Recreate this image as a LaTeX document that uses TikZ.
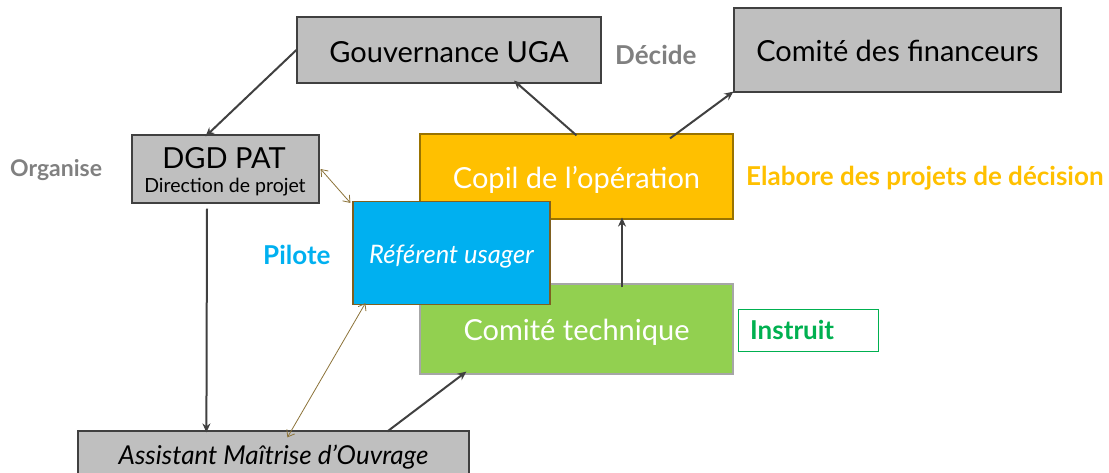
\documentclass[tikz,border=0pt]{standalone}
\usepackage{fontspec}
\setmainfont{Lato}
\usetikzlibrary{arrows.meta,calc}
\definecolor{boxgray}{HTML}{BFBFBF}
\definecolor{edgedark}{HTML}{404040}
\definecolor{labgray}{HTML}{808080}
\definecolor{copilc}{HTML}{FFC000}
\definecolor{refc}{HTML}{00B0F0}
\definecolor{techc}{HTML}{92D050}
\definecolor{instc}{HTML}{00B050}
\definecolor{brownc}{HTML}{8C7339}
\definecolor{refborder}{HTML}{7F6020}
\newcommand{\lowr}[2]{\raisebox{-#1}[\height][\depth]{#2}}
\tikzset{
  graybox/.style={draw=edgedark, line width=1.2pt, fill=boxgray, inner sep=0pt, align=center},
  colbox/.style={line width=1.2pt, inner sep=0pt, align=center, text=white},
  lab/.style={inner sep=0pt, anchor=west},
  darrow/.style={draw=edgedark, line width=2pt, -{Stealth[length=9pt,width=8pt]}},
  barrow/.style={draw=brownc, line width=0.8pt, {Straight Barb[length=6pt,width=9pt]}-{Straight Barb[length=6pt,width=9pt]}}
}
\begin{document}
\begin{tikzpicture}[x=1pt,y=-1pt]
\useasboundingbox (0,0) rectangle (1109,472);
\node[graybox, minimum width=304pt, minimum height=66pt, font=\fontsize{29}{32}\selectfont] (gouv) at (449,50) {\lowr{2pt}{Gouvernance UGA}};
\node[graybox, minimum width=327pt, minimum height=84pt, font=\fontsize{29}{32}\selectfont] (fin) at (897.5,50) {\lowr{1pt}{Comité des financeurs}};
\node[graybox, minimum width=187pt, minimum height=68pt] (dgd) at (225.5,169) {};
\node[font=\fontsize{29}{32}\selectfont, inner sep=0pt] (dgdt) at (224,158) {DGD PAT};
\node[font=\fontsize{19.5}{22}\selectfont, inner sep=0pt] (dgds) at (225,187) {Direction de projet};
\node[graybox, minimum width=391pt, minimum height=48pt, font=\fontsize{26}{30}\selectfont\itshape] (amo) at (273.5,455) {\lowr{2pt}{Assistant Maîtrise d’Ouvrage}};
\node[colbox, fill=copilc, draw=copilc!60!black, minimum width=313pt, minimum height=85pt, font=\fontsize{29}{32}\selectfont] (copil) at (576.5,176.5) {\lowr{3pt}{Copil de l’opération}};
\node[colbox, fill=techc, draw=gray!70, minimum width=313pt, minimum height=90pt, font=\fontsize{29}{32}\selectfont] (tech) at (576.5,329) {\lowr{3pt}{Comité technique}};
\node[colbox, fill=refc, draw=refborder, minimum width=197pt, minimum height=103pt, font=\fontsize{25.5}{30}\selectfont\itshape] (ref) at (451.5,253) {\lowr{4pt}{Référent usager}};
\node[draw=instc, line width=1pt, minimum width=140pt, minimum height=42pt, inner sep=0pt] (inst) at (808,330) {};
\node[lab, text=instc, font=\fontsize{26}{30}\selectfont\bfseries] (insttxt) at (750,330) {Instruit};
\node[lab, text=labgray, font=\fontsize{26}{30}\selectfont\bfseries] (decide) at (615,55) {Décide};
\node[lab, text=labgray, font=\fontsize{23}{26}\selectfont\bfseries] (organise) at (10,170.5) {Organise};
\node[lab, text=copilc, font=\fontsize{26}{30}\selectfont\bfseries] (elabore) at (746,178) {Elabore des projets de décision};
\node[lab, text=refc, font=\fontsize{26}{30}\selectfont\bfseries] (pilote) at (263,255) {Pilote};
% connectors
\draw[darrow] (gouv.west) -- ([xshift=-20pt,yshift=-2pt]dgd.north);
\draw[darrow] ([xshift=-18.5pt,yshift=-5pt]dgd.south) -- ([xshift=129pt,yshift=-2pt]amo.north west);
\draw[barrow] ([xshift=1pt]dgd.east) -- ([xshift=-2pt,yshift=-2pt]ref.north west);
\draw[barrow] ([xshift=13pt,yshift=2pt]ref.south west) -- ([xshift=210pt,yshift=-7pt]amo.north west);
\draw[darrow] ([xshift=310pt,yshift=-1pt]amo.north west) -- ([xshift=47pt,yshift=3pt]tech.south west);
\draw[darrow] ([xshift=45.5pt,yshift=-4pt]tech.north) -- ([xshift=45.5pt,yshift=2pt]copil.south);
\draw[darrow] ([yshift=-2pt]copil.north) -- ([xshift=65pt,yshift=3pt]gouv.south);
\draw[darrow] ([xshift=93.5pt,yshift=-5pt]copil.north) -- ([yshift=1pt]fin.south west);
\end{tikzpicture}
\end{document}
